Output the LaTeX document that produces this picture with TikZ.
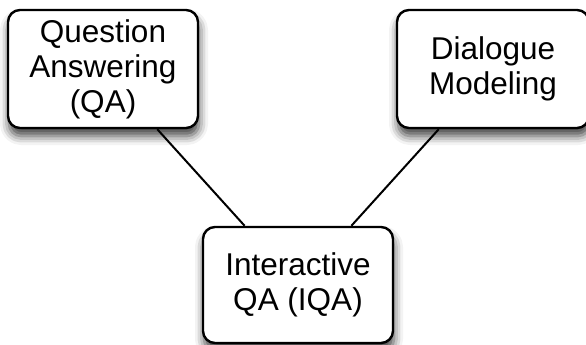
\documentclass[tikz,border=0pt]{standalone}
\usepackage{fontspec}
\setmainfont{Liberation Sans}
\usetikzlibrary{shadows.blur}
\begin{document}
\begin{tikzpicture}[x=1pt,y=-1pt,
  topic/.style={draw=black, line width=2.4pt, rounded corners=12pt, fill=white,
    inner sep=0pt, align=center, font=\fontsize{31.5}{35}\selectfont,
    blur shadow={shadow xshift=1pt, shadow yshift=-8pt, shadow blur radius=9pt, shadow opacity=75}},
  link/.style={draw=black, line width=2pt}]
\useasboundingbox (0,0) rectangle (586,345);
\node[topic, minimum width=190pt, minimum height=118pt] (qa) at (103,69) {Question\\Answering\\(QA)};
\node[topic, minimum width=192pt, minimum height=118pt] (dm) at (493,69) {Dialogue\\Modeling};
\node[topic, minimum width=190pt, minimum height=116pt] (iqa) at (298,285) {Interactive\\QA (IQA)};
\draw[link] (qa) -- (iqa);
\draw[link] (dm) -- (iqa);
\end{tikzpicture}
\end{document}
